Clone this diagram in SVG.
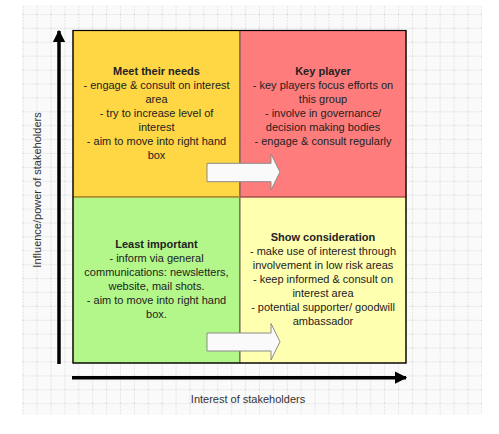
<svg xmlns="http://www.w3.org/2000/svg" width="499" height="434" viewBox="0 0 499 434">
  <defs>
    <pattern id="grid" x="22.7" y="14" width="13.9" height="13.9" patternUnits="userSpaceOnUse">
      <path d="M0 0V13.9M0 0H13.9" fill="none" stroke="#d2d2d2" stroke-width="1" stroke-dasharray="2,1"/>
    </pattern>
    <marker id="ah" viewBox="0 0 10 10" refX="9" refY="5" markerWidth="3.6" markerHeight="3.6" orient="auto" markerUnits="strokeWidth">
      <path d="M0 0L10 5L0 10Z" fill="#000"/>
    </marker>
  </defs>
  <style>
    .t{font-family:"Liberation Sans",Arial,sans-serif;font-size:11px;fill:#222;text-anchor:middle}
    .b{font-weight:bold}
    .ax{font-family:"Liberation Sans",Arial,sans-serif;font-size:11px;fill:#333;text-anchor:middle}
    .q{stroke:#5e5a45;stroke-width:1}
    .blk{fill:#fafafa;stroke:#8a8a8a;stroke-width:1}
  </style>
  <rect x="0" y="0" width="499" height="434" fill="#fff"/>
  <rect x="22" y="5" width="460" height="410" fill="#fafafa"/>
  <rect x="22" y="5" width="460" height="410" fill="url(#grid)"/>

  <g id="meet-their-needs">
    <rect class="q" x="73" y="30.5" width="167" height="166.5" fill="#ffd643"/>
    <text class="t b" x="156.5" y="75">Meet their needs</text>
    <text class="t" x="156.5" y="89">- engage &amp; consult on interest</text>
    <text class="t" x="156.5" y="103">area</text>
    <text class="t" x="156.5" y="117">- try to increase level of</text>
    <text class="t" x="156.5" y="131">interest</text>
    <text class="t" x="156.5" y="145">- aim to move into right hand</text>
    <text class="t" x="156.5" y="159">box</text>
  </g>
  <g id="key-player">
    <rect class="q" x="240" y="30.5" width="166" height="166.5" fill="#ff7c7c"/>
    <text class="t b" x="323" y="75">Key player</text>
    <text class="t" x="323" y="89">- key players focus efforts on</text>
    <text class="t" x="323" y="103">this group</text>
    <text class="t" x="323" y="117">- involve in governance/</text>
    <text class="t" x="323" y="131">decision making bodies</text>
    <text class="t" x="323" y="145">- engage &amp; consult regularly</text>
  </g>
  <g id="least-important">
    <rect class="q" x="73" y="197" width="167" height="166" fill="#b3f78a"/>
    <text class="t b" x="156.5" y="248">Least important</text>
    <text class="t" x="156.5" y="262">- inform via general</text>
    <text class="t" x="156.5" y="276">communications: newsletters,</text>
    <text class="t" x="156.5" y="290">website, mail shots.</text>
    <text class="t" x="156.5" y="304">- aim to move into right hand</text>
    <text class="t" x="156.5" y="318">box.</text>
  </g>
  <g id="show-consideration">
    <rect class="q" x="240" y="197" width="166" height="166" fill="#ffffb0"/>
    <text class="t b" x="323" y="241">Show consideration</text>
    <text class="t" x="323" y="255">- make use of interest through</text>
    <text class="t" x="323" y="269">involvement in low risk areas</text>
    <text class="t" x="323" y="283">- keep informed &amp; consult on</text>
    <text class="t" x="323" y="297">interest area</text>
    <text class="t" x="323" y="311">- potential supporter/ goodwill</text>
    <text class="t" x="323" y="325">ambassador</text>
  </g>
  <line x1="73" y1="197" x2="240" y2="197" stroke="#d9a21a" stroke-width="1.2"/>
  <line x1="240" y1="197" x2="406" y2="197" stroke="#e05050" stroke-width="1.2"/>
  <rect x="73" y="30.5" width="333" height="332.5" fill="none" stroke="#000" stroke-width="1.2"/>

  <g id="connectors">
    <path id="move-top" class="blk" d="M207 163.3H271V154L280 172L271 190V181.7H207Z"/>
    <path id="move-bottom" class="blk" d="M207 333H271V323.5L280 341.7L271 360V351H207Z"/>
    <line id="axis-y" x1="59" y1="364" x2="59" y2="31" stroke="#000" stroke-width="3.5" marker-end="url(#ah)"/>
    <line id="axis-x" x1="72" y1="377.7" x2="406" y2="377.7" stroke="#000" stroke-width="3.5" marker-end="url(#ah)"/>
  </g>
  <text class="ax" x="248" y="403">Interest of stakeholders</text>
  <text class="ax" transform="translate(40.5 190) rotate(-90)" x="0" y="0">Influence/power of stakeholders</text>
</svg>
